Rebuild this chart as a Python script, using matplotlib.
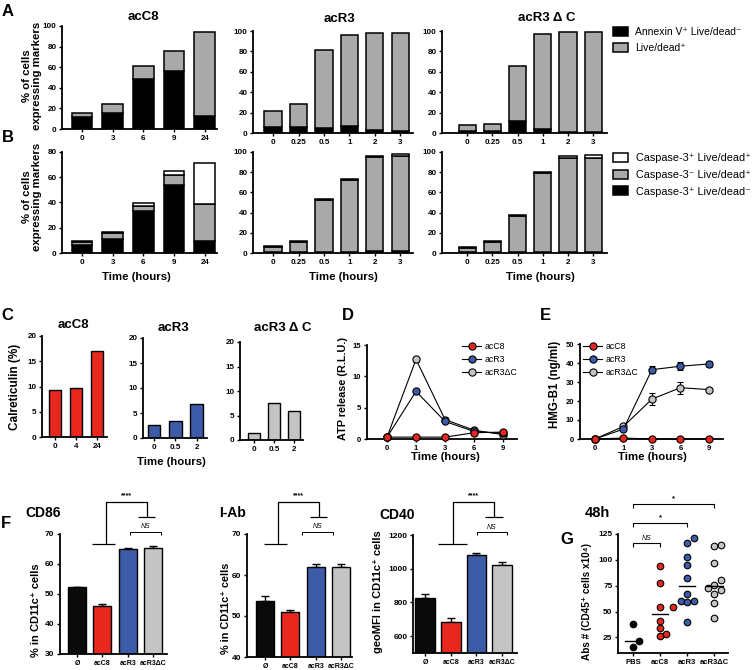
import numpy as np
import matplotlib
matplotlib.use("Agg")
import matplotlib.pyplot as plt
from matplotlib.patches import Patch
from matplotlib.lines import Line2D

# ---------------- data ----------------
c8_times_AB = ["0", "3", "6", "9", "24"]
r3_times_AB = ["0", "0.25", "0.5", "1", "2", "3"]

A_c8_annexin = [12.0, 15.3, 48.5, 56.4, 13.0]
A_c8_livedead = [4.0, 8.5, 13.1, 19.5, 81.5]
A_r3_annexin = [6.0, 6.0, 5.0, 6.5, 2.5, 1.5]
A_r3_livedead = [15.6, 22.0, 76.0, 90.0, 96.0, 97.0]
A_r3dc_annexin = [1.5, 1.5, 12.0, 3.9, 1.0, 0.5]
A_r3dc_livedead = [6.0, 7.5, 54.0, 93.5, 98.4, 98.9]

B_c8_black = [6.6, 11.0, 33.3, 53.8, 9.7]     # Caspase-3+ Live/dead-
B_c8_gray = [1.8, 4.7, 4.2, 7.6, 28.9]        # Caspase-3- Live/dead+
B_c8_white = [0.8, 1.3, 1.9, 3.2, 32.8]       # Caspase-3+ Live/dead+
B_r3_black = [0.5, 0.5, 0.5, 0.5, 1.5, 1.5]
B_r3_gray = [5.7, 10.0, 51.5, 72.0, 93.5, 94.5]
B_r3_white = [1.0, 1.0, 1.0, 1.0, 1.5, 2.5]
B_r3dc_black = [0.5, 0.5, 0.5, 0.5, 0.5, 0.5]
B_r3dc_gray = [4.4, 10.6, 35.9, 78.3, 93.5, 94.0]
B_r3dc_white = [1.0, 1.0, 1.0, 1.5, 2.0, 2.5]

C_c8_times = ["0", "4", "24"]
C_r3_times = ["0", "0.5", "2"]
C_c8 = [9.3, 9.8, 17.0]
C_r3 = [2.6, 3.5, 6.8]
C_r3dc = [1.5, 7.5, 6.0]

DE_times = ["0", "1", "3", "6", "9"]
D_c8 = [0.3, 0.3, 0.3, 1.0, 1.1]
D_c8_err = [0.1, 0.1, 0.1, 0.3, 0.2]
D_r3 = [0.3, 7.6, 2.8, 1.2, 0.9]
D_r3_err = [0.1, 0.3, 0.3, 0.2, 0.2]
D_r3dc = [0.3, 12.7, 3.1, 1.4, 0.7]
D_r3dc_err = [0.1, 0.4, 0.3, 0.3, 0.2]

E_c8 = [0.0, 0.5, 0.0, 0.0, 0.0]
E_c8_err = [0.1, 0.3, 0.1, 0.1, 0.1]
E_r3 = [0.0, 5.2, 36.5, 38.3, 39.5]
E_r3_err = [0.1, 0.8, 1.8, 2.2, 1.5]
E_r3dc = [0.0, 6.6, 21.0, 27.0, 26.0]
E_r3dc_err = [0.1, 0.8, 3.2, 3.2, 0.6]

F_groups = ["Ø", "acC8", "acR3", "acR3ΔC"]
F_cd86 = [52.3, 46.0, 65.0, 65.5]
F_cd86_err = [0.2, 0.6, 0.5, 0.5]
F_iab = [53.7, 51.0, 62.0, 62.0]
F_iab_err = [1.3, 0.4, 0.7, 0.7]
F_cd40 = [828, 685, 1083, 1020]
F_cd40_err = [20, 20, 12, 20]

G_groups = ["PBS", "acC8", "acR3", "acR3ΔC"]
G_pbs = [38.4, 21.5, 15.5]
G_c8 = [94.0, 77.5, 54.0, 54.0, 41.0, 34.5, 28.0, 26.5]
G_r3 = [121.5, 116.0, 103.0, 95.0, 82.5, 67.5, 60.0, 59.0, 60.0, 40.0]
G_r3dc = [114.5, 113.5, 97.0, 81.0, 76.0, 73.0, 70.5, 67.5, 58.5, 44.0]

# ---------------- style ----------------
FAM = ["Liberation Sans", "DejaVu Sans"]
plt.rcParams["font.family"] = FAM
plt.rcParams["font.weight"] = "bold"
plt.rcParams["axes.labelweight"] = "bold"

RED = "#e8281e"
BLUE = "#3d5ca8"
LGRAY = "#c4c4c4"
SGRAY = "#a9a9a9"

W, H = 755, 670
fig = plt.figure(figsize=(W / 100, H / 100), dpi=100)


def add_ax(x0, y0, x1, y1):
    return fig.add_axes([x0 / W, 1 - y1 / H, (x1 - x0) / W, (y1 - y0) / H])


def ftext(x, y, s, **kw):
    kw.setdefault("ha", "center")
    kw.setdefault("va", "center")
    fig.text(x / W, 1 - y / H, s, **kw)


def style(ax, xsize=5.8, ysize=5.8):
    for s in ["top", "right"]:
        ax.spines[s].set_visible(False)
    for s in ["left", "bottom"]:
        ax.spines[s].set_linewidth(1.3)
    ax.tick_params(direction="out", length=2.5, width=1.0, pad=1.5)
    ax.tick_params(axis="x", labelsize=xsize)
    ax.tick_params(axis="y", labelsize=ysize)


def stacked(ax, labels, layers, colors, width=0.68):
    x = np.arange(len(labels))
    bottom = np.zeros(len(labels))
    for vals, c in zip(layers, colors):
        ax.bar(x, vals, width, bottom=bottom, color=c, edgecolor="black", linewidth=1.1)
        bottom = bottom + np.asarray(vals)
    ax.set_xticks(x)
    ax.set_xticklabels(labels)


def letter(x, y, s):
    ftext(x, y, s, fontsize=12, fontweight="bold",
          family=["Liberation Sans Narrow", "Liberation Sans"])


# ---------------- Panel A ----------------
axA1 = add_ax(62, 26, 217, 129)
stacked(axA1, c8_times_AB, [A_c8_annexin, A_c8_livedead], ["black", SGRAY])
axA1.set_xlim(-0.65, 4.4)
axA2 = add_ax(253, 31, 413, 133)
stacked(axA2, r3_times_AB, [A_r3_annexin, A_r3_livedead], ["black", SGRAY])
axA2.set_xlim(-0.79, 5.5)
axA3 = add_ax(442, 31, 607, 133)
stacked(axA3, r3_times_AB, [A_r3dc_annexin, A_r3dc_livedead], ["black", SGRAY])
axA3.set_xlim(-1.0, 5.55)
for ax in (axA1, axA2, axA3):
    ax.set_ylim(0, 100)
    ax.set_yticks(range(0, 101, 20))
    style(ax)

ftext(143, 17, "acC8", fontsize=9.5)
ftext(340, 19, "acR3", fontsize=9.5)
ftext(547, 18, "acR3 Δ C", fontsize=9.5)
ftext(32, 76, "% of cells\nexpressing markers", fontsize=8.2, rotation=90, linespacing=1.0)
letter(8, 11, "A")

fig.legend([Patch(facecolor="black", edgecolor="black", lw=1.1),
            Patch(facecolor=SGRAY, edgecolor="black", lw=1.1)],
           ["Annexin V⁺ Live/dead⁻", "Live/dead⁺"],
           loc="upper left", bbox_to_anchor=(613 / W, 1 - 27 / H), frameon=False,
           prop=dict(size=7.5, weight="normal", family=FAM), handlelength=1.4,
           handleheight=0.9, handletextpad=0.7, labelspacing=0.6,
           borderpad=0, borderaxespad=0)

# ---------------- Panel B ----------------
axB1 = add_ax(62, 152, 217, 253)
stacked(axB1, c8_times_AB, [B_c8_black, B_c8_gray, B_c8_white], ["black", SGRAY, "white"])
axB1.set_xlim(-0.65, 4.4)
axB1.set_ylim(0, 80)
axB1.set_yticks(range(0, 81, 20))
axB2 = add_ax(253, 152, 413, 253)
stacked(axB2, r3_times_AB, [B_r3_black, B_r3_gray, B_r3_white], ["black", SGRAY, "white"])
axB2.set_xlim(-0.79, 5.5)
axB3 = add_ax(442, 152, 607, 253)
stacked(axB3, r3_times_AB, [B_r3dc_black, B_r3dc_gray, B_r3dc_white], ["black", SGRAY, "white"])
axB3.set_xlim(-1.0, 5.55)
for ax in (axB2, axB3):
    ax.set_ylim(0, 100)
    ax.set_yticks(range(0, 101, 20))
for ax in (axB1, axB2, axB3):
    style(ax)

ftext(32, 197, "% of cells\nexpressing markers", fontsize=8.2, rotation=90, linespacing=1.0)
ftext(136, 277, "Time (hours)", fontsize=8.2)
ftext(343, 277, "Time (hours)", fontsize=8.2)
ftext(540, 277, "Time (hours)", fontsize=8.2)
letter(8, 138, "B")

fig.legend([Patch(facecolor="white", edgecolor="black", lw=1.1),
            Patch(facecolor=SGRAY, edgecolor="black", lw=1.1),
            Patch(facecolor="black", edgecolor="black", lw=1.1)],
           ["Caspase-3⁺ Live/dead⁺", "Caspase-3⁻ Live/dead⁺", "Caspase-3⁺ Live/dead⁻"],
           loc="upper left", bbox_to_anchor=(613 / W, 1 - 153 / H), frameon=False,
           prop=dict(size=7.8, weight="normal", family=FAM), handlelength=1.4,
           handleheight=0.9, handletextpad=0.7, labelspacing=0.6,
           borderpad=0, borderaxespad=0)

# ---------------- Panel C ----------------
def simple_bars(ax, labels, vals, color, width=0.6):
    x = np.arange(len(labels))
    ax.bar(x, vals, width, color=color, edgecolor="black", linewidth=1.0)
    ax.set_xticks(x)
    ax.set_xticklabels(labels)
    ax.set_ylim(0, 20)
    ax.set_yticks(range(0, 21, 5))
    style(ax)

axC1 = add_ax(42, 336, 107, 437)
simple_bars(axC1, C_c8_times, C_c8, RED)
axC1.set_xlim(-0.62, 2.48)
axC2 = add_ax(143, 338, 207, 438)
simple_bars(axC2, C_r3_times, C_r3, BLUE)
axC2.set_xlim(-0.52, 2.48)
axC3 = add_ax(240, 342, 303, 440)
simple_bars(axC3, C_r3_times, C_r3dc, LGRAY)
axC3.set_xlim(-0.7, 2.45)

ftext(73, 325, "acC8", fontsize=9.5)
ftext(173, 328, "acR3", fontsize=9.5)
ftext(283, 328, "acR3 Δ C", fontsize=9.5)
ftext(15, 387, "Calreticulin (%)", fontsize=8.5, rotation=90)
ftext(171, 462, "Time (hours)", fontsize=8.2)
letter(7, 316, "C")

# ---------------- Panel D / E ----------------
def line_panel(ax, series):
    x = np.arange(len(DE_times))
    handles = []
    for vals, err, col, lab in series:
        ax.errorbar(x, vals, yerr=err, color="black", lw=0.8, elinewidth=0.8,
                    capsize=2.2, capthick=0.8, marker="o", ms=5.2, mfc=col,
                    mec="black", mew=0.8, clip_on=False, zorder=3)
        handles.append(Line2D([0], [0], color="black", lw=0.8, marker="o", ms=5.2,
                              mfc=col, mec="black", mew=0.8))
    ax.set_xticks(x)
    ax.set_xticklabels(DE_times)
    style(ax, xsize=5.5, ysize=5.5)
    return handles

axD = add_ax(367, 345, 517, 439)
seriesD = [(D_r3dc, D_r3dc_err, LGRAY, "acR3ΔC"), (D_r3, D_r3_err, BLUE, "acR3"),
           (D_c8, D_c8_err, RED, "acC8")]
hD = line_panel(axD, seriesD)
axD.set_xlim(-0.69, 4.48)
axD.set_ylim(0, 15)
axD.set_yticks([0, 5, 10, 15])
axD.legend(hD[::-1], ["acC8", "acR3", "acR3ΔC"], loc="upper left",
           bbox_to_anchor=(462 / W, 1 - 342 / H), bbox_transform=fig.transFigure,
           frameon=False, prop=dict(size=6.3, weight="normal", family=FAM),
           handlelength=2.2, handletextpad=0.35, labelspacing=0.45,
           borderpad=0, borderaxespad=0)
ftext(343, 388, "ATP release (R.L.U.)", fontsize=7.8, rotation=90)
ftext(445, 457, "Time (hours)", fontsize=8.2)
letter(348, 316, "D")

axE = add_ax(580, 344, 723, 439)
seriesE = [(E_r3dc, E_r3dc_err, LGRAY, "acR3ΔC"), (E_r3, E_r3_err, BLUE, "acR3"),
           (E_c8, E_c8_err, RED, "acC8")]
hE = line_panel(axE, seriesE)
axE.set_xlim(-0.52, 4.49)
axE.set_ylim(0, 50)
axE.set_yticks(range(0, 51, 10))
axE.legend(hE[::-1], ["acC8", "acR3", "acR3ΔC"], loc="upper left",
           bbox_to_anchor=(583 / W, 1 - 342 / H), bbox_transform=fig.transFigure,
           frameon=False, prop=dict(size=6.3, weight="normal", family=FAM),
           handlelength=2.2, handletextpad=0.35, labelspacing=0.45,
           borderpad=0, borderaxespad=0)
ftext(555, 384, "HMG-B1 (ng/ml)", fontsize=8.3, rotation=90)
ftext(652, 457, "Time (hours)", fontsize=8.2)
letter(545, 316, "E")

# ---------------- Panel F ----------------
F_colors = ["#0a0a0a", RED, BLUE, LGRAY]


def fbars(ax, vals, err, width=0.72):
    x = np.arange(len(F_groups))
    ax.bar(x, vals, width, color=F_colors, edgecolor="black", linewidth=1.0, zorder=2)
    ax.errorbar(x, vals, yerr=[np.zeros(len(vals)), err], fmt="none", ecolor="black",
                elinewidth=1.0, capsize=3, capthick=1.0, zorder=1)
    ax.set_xticks(x)
    ax.set_xticklabels(F_groups)
    style(ax, xsize=5.0, ysize=6.0)


def seg(ax, xs, ys, lw=0.9):
    ax.plot(xs, ys, color="black", lw=lw, clip_on=False, solid_capstyle="butt")


axF1 = add_ax(60, 534, 167, 654)
fbars(axF1, F_cd86, F_cd86_err)
axF1.set_xlim(-0.67, 3.55)
axF1.set_ylim(30, 70)
axF1.set_yticks(range(30, 71, 10))
seg(axF1, [1.15, 1.15, 2.77, 2.77], [66.7, 80.7, 80.7, 75.7])
seg(axF1, [0.6, 1.5], [66.7, 66.7])
seg(axF1, [2.41, 3.08], [75.7, 75.7])
axF1.text(1.96, 82.6, "****", ha="center", va="center", fontsize=5)
seg(axF1, [2.1, 2.1, 3.32, 3.32], [69.6, 70.7, 70.7, 69.6], lw=0.7)
axF1.text(2.71, 72.4, "NS", ha="center", va="center", fontsize=5, style="italic",
          fontweight="normal")

axF2 = add_ax(247, 534, 352, 657)
fbars(axF2, F_iab, F_iab_err)
axF2.set_xlim(-0.71, 3.43)
axF2.set_ylim(40, 70)
axF2.set_yticks(range(40, 71, 10))
seg(axF2, [0.5, 0.5, 2.12, 2.12], [67.6, 77.8, 77.8, 74.1])
seg(axF2, [-0.05, 0.85], [67.6, 67.6])
seg(axF2, [1.76, 2.43], [74.1, 74.1])
axF2.text(1.31, 79.4, "****", ha="center", va="center", fontsize=5)
seg(axF2, [1.45, 1.45, 2.67, 2.67], [69.7, 70.5, 70.5, 69.7], lw=0.7)
axF2.text(2.06, 71.8, "NS", ha="center", va="center", fontsize=5, style="italic",
          fontweight="normal")

axF3 = add_ax(413, 535, 517, 653)
fbars(axF3, F_cd40, F_cd40_err, width=0.76)
axF3.set_xlim(-0.47, 3.58)
axF3.set_ylim(500, 1200)
axF3.set_yticks(range(600, 1201, 200))
seg(axF3, [1.09, 1.09, 2.68, 2.68], [1147, 1396, 1396, 1307])
seg(axF3, [0.5, 1.63], [1147, 1147])
seg(axF3, [2.33, 3.03], [1307, 1307])
axF3.text(1.87, 1432, "****", ha="center", va="center", fontsize=5)
seg(axF3, [2.02, 2.02, 3.19, 3.19], [1200, 1218, 1218, 1200], lw=0.7)
axF3.text(2.6, 1245, "NS", ha="center", va="center", fontsize=5, style="italic",
          fontweight="normal")

ftext(43, 513, "CD86", fontsize=10)
ftext(233, 513, "I-Ab", fontsize=10)
ftext(397, 515, "CD40", fontsize=10)
ftext(36, 610, "% in CD11c⁺ cells", fontsize=8, rotation=90)
ftext(226, 608, "% in CD11c⁺ cells", fontsize=7.8, rotation=90)
ftext(378, 592, "geoMFI in CD11c⁺ cells", fontsize=8, rotation=90)
letter(6, 523, "F")

# ---------------- Panel G ----------------
axG = add_ax(618, 534, 728, 653)
axG.set_xlim(-0.55, 3.5)
axG.set_ylim(10, 125)
G_cols = ["black", RED, BLUE, LGRAY]
G_data = [G_pbs, G_c8, G_r3, G_r3dc]
fig.canvas.draw()
trans = axG.transData
dot_px = 6.6
for gi, (vals, col) in enumerate(zip(G_data, G_cols)):
    vals = np.asarray(vals, dtype=float)
    placed = []  # pixel positions
    xs = np.zeros(len(vals))
    order = np.argsort(vals)
    for idx in order:
        py = trans.transform((gi, vals[idx]))[1]
        px0 = trans.transform((gi, 0))[0]
        for k in [0, 1, -1, 2, -2, 3, -3]:
            cand = px0 + k * dot_px * 0.95
            if all((cand - qx) ** 2 + (py - qy) ** 2 >= (dot_px * 0.95) ** 2 for qx, qy in placed):
                break
        placed.append((cand, py))
        xs[idx] = trans.inverted().transform((cand, py))[0]
    axG.scatter(xs, vals, s=(dot_px * 0.72) ** 2, color=col, edgecolors="black",
                linewidths=0.8, zorder=3, clip_on=False)
    med = np.median(vals)
    axG.plot([gi - 0.3, gi + 0.3], [med, med], color="black", lw=1.0, zorder=4)
axG.set_xticks(range(len(G_groups)))
axG.set_xticklabels(G_groups)
axG.set_yticks(range(25, 126, 25))
style(axG, xsize=5.5, ysize=6.0)
seg(axG, [0, 0, 3, 3], [150.0, 153.8, 153.8, 150.0], lw=0.8)
axG.text(1.5, 159, "*", ha="center", va="center", fontsize=5.5)
seg(axG, [0, 0, 2, 2], [131.7, 135.6, 135.6, 131.7], lw=0.8)
axG.text(1.0, 140.5, "*", ha="center", va="center", fontsize=5.5)
seg(axG, [0, 0, 1, 1], [112.5, 116.3, 116.3, 112.5], lw=0.8)
axG.text(0.5, 120.5, "NS", ha="center", va="center", fontsize=5, style="italic",
         fontweight="normal")
ftext(597, 513, "48h", fontsize=10.5)
ftext(587, 602, "Abs # (CD45⁺ cells x10⁴)", fontsize=7.2, rotation=90)
letter(567, 540, "G")

fig.savefig("out.png", dpi=100, facecolor="white")
